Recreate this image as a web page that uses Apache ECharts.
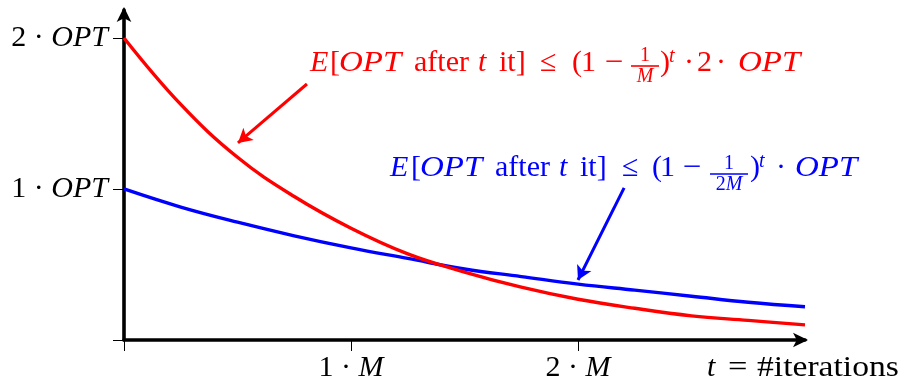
<!DOCTYPE html>
<html>
<head>
<meta charset="utf-8">
<script src="https://cdn.jsdelivr.net/npm/echarts@6/dist/echarts.min.js"></script>
<style>
  html, body { margin: 0; padding: 0; background: #fff; }
  #chart { width: 903px; height: 380px; }
</style>
</head>
<body>
<div id="chart"></div>
<script>
// iteration count t, in units of M
const iterations = [0, 0.25, 0.5, 0.75, 1, 1.25, 1.5, 1.75, 2, 2.25, 2.5, 2.75, 3];
// expected OPT bound, start at 2·OPT, factor (1 - 1/M) per iteration
const boundTwoOpt = [2.00, 1.56, 1.21, 0.95, 0.74, 0.57, 0.45, 0.35, 0.27, 0.21, 0.16, 0.13, 0.10];
// expected OPT bound, start at 1·OPT, factor (1 - 1/(2M)) per iteration
const boundOpt = [1.00, 0.88, 0.78, 0.69, 0.61, 0.54, 0.47, 0.42, 0.37, 0.33, 0.29, 0.25, 0.22];

const yTicks = [1, 2];
const yTickLabels = ['1', '2'];
const xTicks = [1, 2];
const xTickLabels = ['1', '2'];

const RED = '#ff0000';
const BLUE = '#0000ff';
const FONT = '"Liberation Serif", "DejaVu Serif", serif';
const TXT = 30;     // body text size
const SMALL = 20;   // fraction / superscript size

const chart = echarts.init(document.getElementById('chart'));

const measureCtx = document.createElement('canvas').getContext('2d');
function fontOf(size, italic) {
  return (italic ? 'italic ' : '') + size + 'px ' + FONT;
}
function measure(text, size, italic) {
  measureCtx.font = fontOf(size, italic);
  return measureCtx.measureText(text).width;
}
// a text run whose alphabetic baseline sits at `baseline`; sx widens the glyphs
function run(text, x, baseline, size, italic, color, sx) {
  return {
    type: 'text',
    silent: true,
    x: x, y: baseline - 0.3375 * size,
    scaleX: sx || 1,
    style: {
      text: text, x: 0, y: 0,
      font: fontOf(size, italic), fill: color,
      align: 'left', verticalAlign: 'middle',
      textAlign: 'left', textVerticalAlign: 'middle'
    }
  };
}
// formula pieces: plain runs [text, italic, dx, sx], superscripts and stacked fractions
function formula(pieces, x0, baseline, color, fr) {
  const els = [];
  pieces.forEach(p => {
    if (Array.isArray(p)) {
      els.push(run(p[0], x0 + p[2], baseline, TXT, p[1], color, p[3]));
    } else if (p.sup) {
      els.push(run(p.sup, x0 + p.dx, baseline - 10, SMALL, true, color));
    } else if (p.frac) {
      const x = x0 + p.dx;
      const numW = p.num.reduce((s, q) => s + measure(q[0], SMALL, q[1]), 0);
      const denW = p.den.reduce((s, q) => s + measure(q[0], SMALL, q[1]), 0);
      let nx = x + (p.w - numW) / 2;
      p.num.forEach(q => { els.push(run(q[0], nx, baseline + fr.num, SMALL, q[1], color)); nx += measure(q[0], SMALL, q[1]); });
      let dx = x + (p.w - denW) / 2;
      p.den.forEach(q => { els.push(run(q[0], dx, baseline + fr.den, SMALL, q[1], color)); dx += measure(q[0], SMALL, q[1]); });
      els.push({ type: 'rect', silent: true,
        shape: { x: x, y: baseline + fr.bar - 0.8, width: p.w, height: 1.6 }, style: { fill: color } });
    }
  });
  return els;
}

const redFormula = [
  ['E', true, 0], ['[', false, 20], ['OPT', true, 29, 1.1], ['after', false, 104],
  ['t', true, 168], ['it]', false, 189], ['≤', false, 230], ['(', false, 262],
  ['1', false, 271], ['−', false, 295, 1.1],
  { frac: true, dx: 321, w: 28, num: [['1', false]], den: [['M', true]] },
  [')', false, 350], { sup: 't', dx: 359 }, ['·', false, 374], ['2', false, 387],
  ['·', false, 406], ['OPT', true, 428, 1.1]
];
const blueFormula = [
  ['E', true, 0], ['[', false, 21], ['OPT', true, 30, 1.1], ['after', false, 105],
  ['t', true, 169], ['it]', false, 190], ['≤', false, 232], ['(', false, 262],
  ['1', false, 270], ['−', false, 293, 1.1],
  { frac: true, dx: 320, w: 38, num: [['1', false]], den: [['2', false], ['M', true]] },
  [')', false, 360], { sup: 't', dx: 369 }, ['·', false, 386], ['OPT', true, 405, 1.1]
];
const axisTitle = [['t', true, 0], ['=', false, 21, 1.15], ['#iterations', false, 50, 1.12]];

const richLabel = {
  n: { fontFamily: FONT, fontSize: TXT, color: '#000' },
  i: { fontFamily: FONT, fontSize: TXT, fontStyle: 'italic', color: '#000' }
};

const baseY = {
  type: 'value', min: 0, max: 2.185,
  axisLine: { show: false }, splitLine: { show: false },
  axisLabel: { show: false }, axisTick: { show: false }
};
const baseX = {
  type: 'value', min: 0, max: 3,
  axisLine: { show: false }, splitLine: { show: false },
  axisLabel: { show: false }, axisTick: { show: false }
};

chart.setOption({
  animation: false,
  backgroundColor: '#fff',
  grid: { left: 124, right: 98, top: 10, bottom: 40, outerBoundsMode: 'none' },
  xAxis: [
    Object.assign({}, baseX, {
      axisLine: { show: true, onZero: false, symbol: ['none', 'arrow'], symbolSize: [11, 15], symbolOffset: [0, 3],
        lineStyle: { color: '#000', width: 3.6 } },
      axisTick: { show: true, length: 11, customValues: [0, ...xTicks], lineStyle: { color: '#000', width: 1 } },
      axisLabel: {
        show: true, margin: 13, customValues: xTicks,
        formatter: v => '{n|' + xTickLabels[xTicks.indexOf(v)] + ' · }{i|M}', rich: richLabel
      }
    }),
    Object.assign({}, baseX, {
      axisTick: { show: true, inside: true, length: 11, customValues: xTicks, lineStyle: { color: '#000', width: 1 } }
    })
  ],
  yAxis: [
    Object.assign({}, baseY, {
      axisLine: { show: true, onZero: false, symbol: ['none', 'arrow'], symbolSize: [11, 15], symbolOffset: [0, 3],
        lineStyle: { color: '#000', width: 3.6 } },
      axisTick: { show: true, length: 11, customValues: [0, ...yTicks], lineStyle: { color: '#000', width: 1 } },
      axisLabel: {
        show: true, margin: 16, customValues: yTicks,
        formatter: v => '{n|' + yTickLabels[yTicks.indexOf(v)] + ' · }{i|OPT}', rich: richLabel
      }
    }),
    Object.assign({}, baseY, {
      axisTick: { show: true, inside: true, length: 11, customValues: yTicks, lineStyle: { color: '#000', width: 1 } }
    })
  ],
  series: [
    {
      name: 'start 2·OPT', type: 'line', smooth: 0.4, showSymbol: false,
      data: iterations.map((t, i) => [t, boundTwoOpt[i]]),
      lineStyle: { color: RED, width: 3.4 }, z: 3,
      markLine: {
        silent: true, symbol: ['none', 'arrow'], symbolSize: [12, 14],
        label: { show: false }, lineStyle: { color: RED, width: 3, type: 'solid' },
        data: [[{ coord: [0.806, 1.695] }, { coord: [0.502, 1.305] }]]
      }
    },
    {
      name: 'start 1·OPT', type: 'line', smooth: 0.4, showSymbol: false,
      data: iterations.map((t, i) => [t, boundOpt[i]]),
      lineStyle: { color: BLUE, width: 3.4 }, z: 2,
      markLine: {
        silent: true, symbol: ['none', 'arrow'], symbolSize: [12, 14],
        label: { show: false }, lineStyle: { color: BLUE, width: 3, type: 'solid' },
        data: [[{ coord: [2.203, 1.007] }, { coord: [2.0, 0.397] }]]
      }
    }
  ],
  graphic: [
    ...formula(redFormula, 310, 73, RED, { num: -11, bar: -7, den: 10 }),
    ...formula(blueFormula, 390, 178, BLUE, { num: -8, bar: -4, den: 13 }),
    ...formula(axisTitle, 707, 378, '#000', {})
  ]
});
</script>
</body>
</html>
